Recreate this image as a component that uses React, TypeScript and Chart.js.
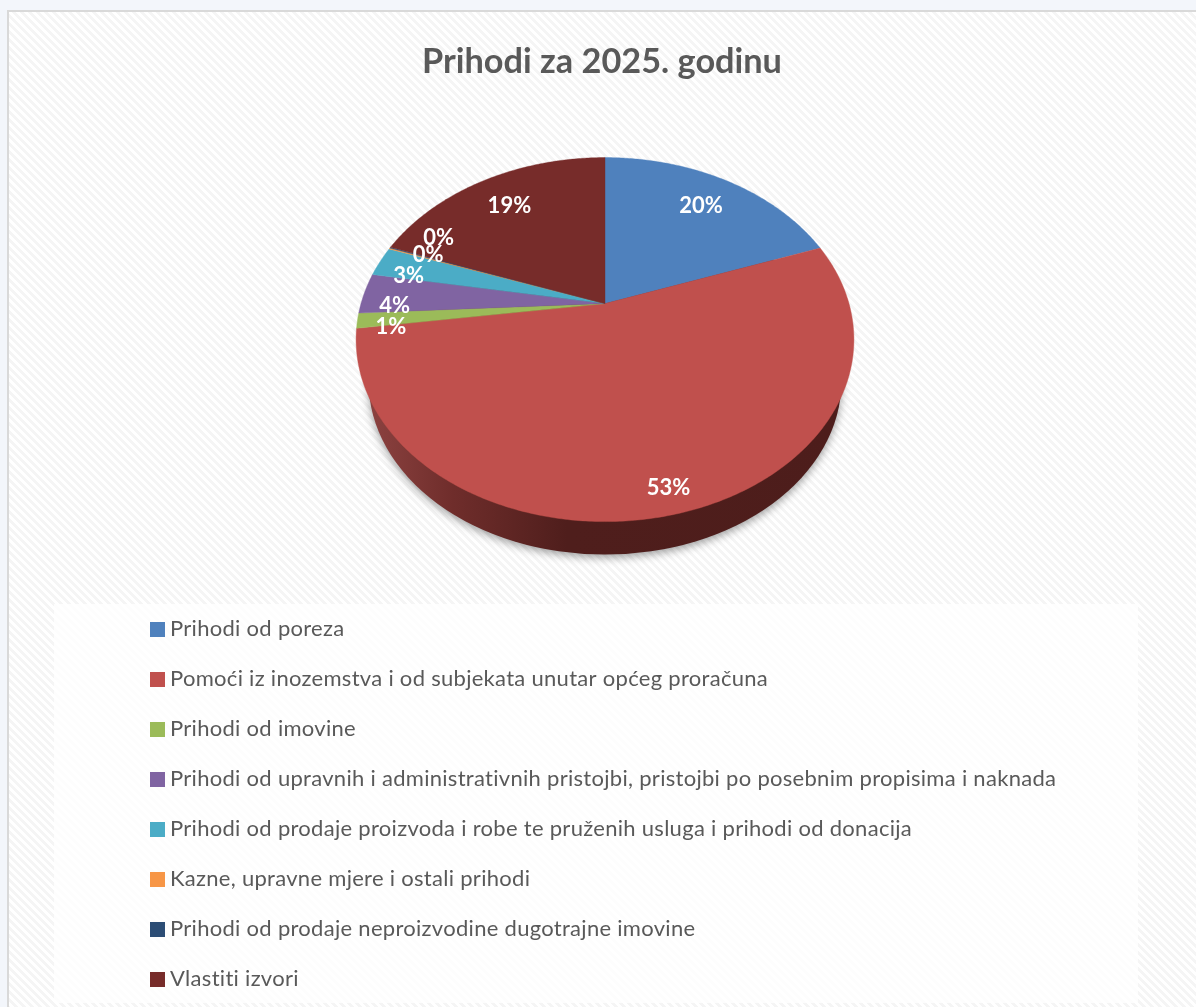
import React, { useEffect, useRef } from "react";
import { Chart, registerables } from "chart.js";

Chart.register(...registerables);

const chartTitle = "Prihodi za 2025. godinu";
const categories = [
  "Prihodi od poreza",
  "Pomoći iz inozemstva i od subjekata unutar općeg proračuna",
  "Prihodi od imovine",
  "Prihodi od upravnih i administrativnih pristojbi, pristojbi po posebnim propisima i naknada",
  "Prihodi od prodaje proizvoda i robe te pruženih usluga i prihodi od donacija",
  "Kazne, upravne mjere i ostali prihodi",
  "Prihodi od prodaje neproizvodine dugotrajne imovine",
  "Vlastiti izvori",
];
const shares = [19.5, 53.3, 1.35, 3.6, 2.65, 0.1, 0.1, 19.4];
const sliceColors = ["#4f81bd", "#c0504d", "#9bbb59", "#8064a2", "#4bacc6", "#f79646", "#2c4d75", "#772c2a"];

// Label placement inside the tilted pie (fraction of radius, angular nudge in degrees)
const labelRadius = [0.77, 0.9, 0.865, 0.86, 0.846, 0.823, 0.84, 0.77];
const labelNudge = [0, 0, -3, -4.2, -3.7, 1.5, 8.8, 0];

const R = 244;
const K = 0.1978; // perspective strength
const Y_SCALE = 174.9 / 244;
const NUDGE_X = 3;
const FONT = "Lato";

function project(el: any, angle: number, r = 1) {
  const u = Math.cos(angle) * r;
  const v = Math.sin(angle) * r;
  const d = 1 - K * v;
  return { x: el.x + NUDGE_X + (R * u) / d, y: el.y + (R * Y_SCALE * v) / d };
}

function hatch(ctx: CanvasRenderingContext2D) {
  const c = document.createElement("canvas");
  c.width = 8;
  c.height = 8;
  const g = c.getContext("2d")!;
  g.fillStyle = "#ffffff";
  g.fillRect(0, 0, 8, 8);
  g.fillStyle = "#f5f5f5";
  for (let y = 0; y < 8; y++) {
    for (let x = 0; x < 8; x++) {
      if (((x - y + 16) % 8) < 4) g.fillRect(x, y, 1, 1);
    }
  }
  return ctx.createPattern(c, "repeat")!;
}

const backdropPlugin = {
  id: "backdrop",
  beforeDraw(chart: any) {
    const { ctx, width, height } = chart;
    ctx.save();
    ctx.fillStyle = "#f3f6fb";
    ctx.fillRect(0, 0, width, height);
    ctx.fillStyle = "#d9d9d9";
    ctx.fillRect(7, 10, width - 7, height - 10);
    ctx.fillStyle = hatch(ctx);
    ctx.fillRect(9, 12, width - 9, height - 12);
    ctx.fillStyle = "rgba(255,255,255,0.82)";
    ctx.fillRect(54, 604, 1084, 399);
    ctx.restore();
  },
};

const tiltedPiePlugin = {
  id: "tiltedPie",
  beforeDatasetDraw(chart: any, args: any) {
    const { ctx } = chart;
    const els = args.meta.data;
    const first = els[0];
    ctx.save();
    // side wall: a slightly smaller copy of the rim, lower down
    const cx = first.x + NUDGE_X;
    const grad = ctx.createLinearGradient(368, 0, 842, 0);
    grad.addColorStop(0, "#8c4240");
    grad.addColorStop(0.18, "#6f2d2b");
    grad.addColorStop(0.42, "#4f1e1c");
    grad.addColorStop(1, "#4d1d1b");
    ctx.fillStyle = grad;
    ctx.shadowColor = "rgba(0,0,0,0.38)";
    ctx.shadowBlur = 9;
    ctx.shadowOffsetY = 3;
    ctx.beginPath();
    ctx.ellipse(cx, first.y + 78, R * 0.969, R * 0.709, 0, 0, Math.PI * 2);
    ctx.fill();
    ctx.shadowColor = "transparent";
    ctx.shadowBlur = 0;
    ctx.shadowOffsetY = 0;
    // top face: each slice from the angles the library computed
    els.forEach((el: any) => {
      const start = el.startAngle;
      const end = el.endAngle;
      const steps = Math.max(2, Math.ceil((end - start) / 0.01));
      ctx.beginPath();
      ctx.moveTo(cx, el.y);
      for (let i = 0; i <= steps; i++) {
        const p = project(el, start + ((end - start) * i) / steps);
        ctx.lineTo(p.x, p.y);
      }
      ctx.closePath();
      ctx.fillStyle = el.options.backgroundColor;
      ctx.fill();
      ctx.strokeStyle = el.options.backgroundColor;
      ctx.lineWidth = 0.4;
      ctx.stroke();
    });
    ctx.restore();
    return false;
  },
  afterDatasetsDraw(chart: any) {
    const { ctx } = chart;
    ctx.save();
    ctx.font = `bold 22px ${FONT}`;
    ctx.fillStyle = "#ffffff";
    ctx.textAlign = "center";
    ctx.textBaseline = "middle";
    chart.getDatasetMeta(0).data.forEach((el: any, i: number) => {
      const mid = (el.startAngle + el.endAngle) / 2 + (labelNudge[i] * Math.PI) / 180;
      const p = project(el, mid, labelRadius[i]);
      ctx.fillText(`${Math.round(shares[i])}%`, p.x, p.y);
    });
    ctx.restore();
  },
};

const sideLegendPlugin = {
  id: "sideLegend",
  afterDraw(chart: any) {
    const { ctx } = chart;
    ctx.save();
    ctx.font = `22px ${FONT}`;
    (ctx as any).letterSpacing = "0.29px";
    ctx.textBaseline = "middle";
    ctx.textAlign = "left";
    chart.data.labels.forEach((label: string, i: number) => {
      const y = 629.5 + i * 50;
      ctx.fillStyle = chart.data.datasets[0].backgroundColor[i];
      ctx.fillRect(150, y - 7.5, 15, 15);
      ctx.fillStyle = "#595959";
      ctx.fillText(label, 170, y - 1);
    });
    ctx.restore();
  },
};

export default function App() {
  const ref = useRef<HTMLCanvasElement | null>(null);
  useEffect(() => {
    const chart = new Chart(ref.current!, {
      type: "pie",
      data: {
        labels: categories,
        datasets: [{ data: shares, backgroundColor: sliceColors, borderWidth: 0 }],
      },
      options: {
        responsive: false,
        animation: false,
        devicePixelRatio: 1,
        radius: R,
        layout: { padding: { left: 8, top: 0, right: 0, bottom: 486 } },
        plugins: {
          legend: { display: false },
          tooltip: { enabled: false },
          title: {
            display: true,
            text: chartTitle,
            color: "#595959",
            font: { family: FONT, size: 34.3, weight: "bold" },
            padding: { top: 41, bottom: 4 },
          },
        },
      },
      plugins: [backdropPlugin, tiltedPiePlugin, sideLegendPlugin],
    } as any);
    return () => chart.destroy();
  }, []);
  return (
    <div style={{ position: "absolute", left: 0, top: 0, width: 1196, height: 1007 }}>
      <canvas ref={ref} width={1196} height={1007} style={{ display: "block" }} />
    </div>
  );
}
